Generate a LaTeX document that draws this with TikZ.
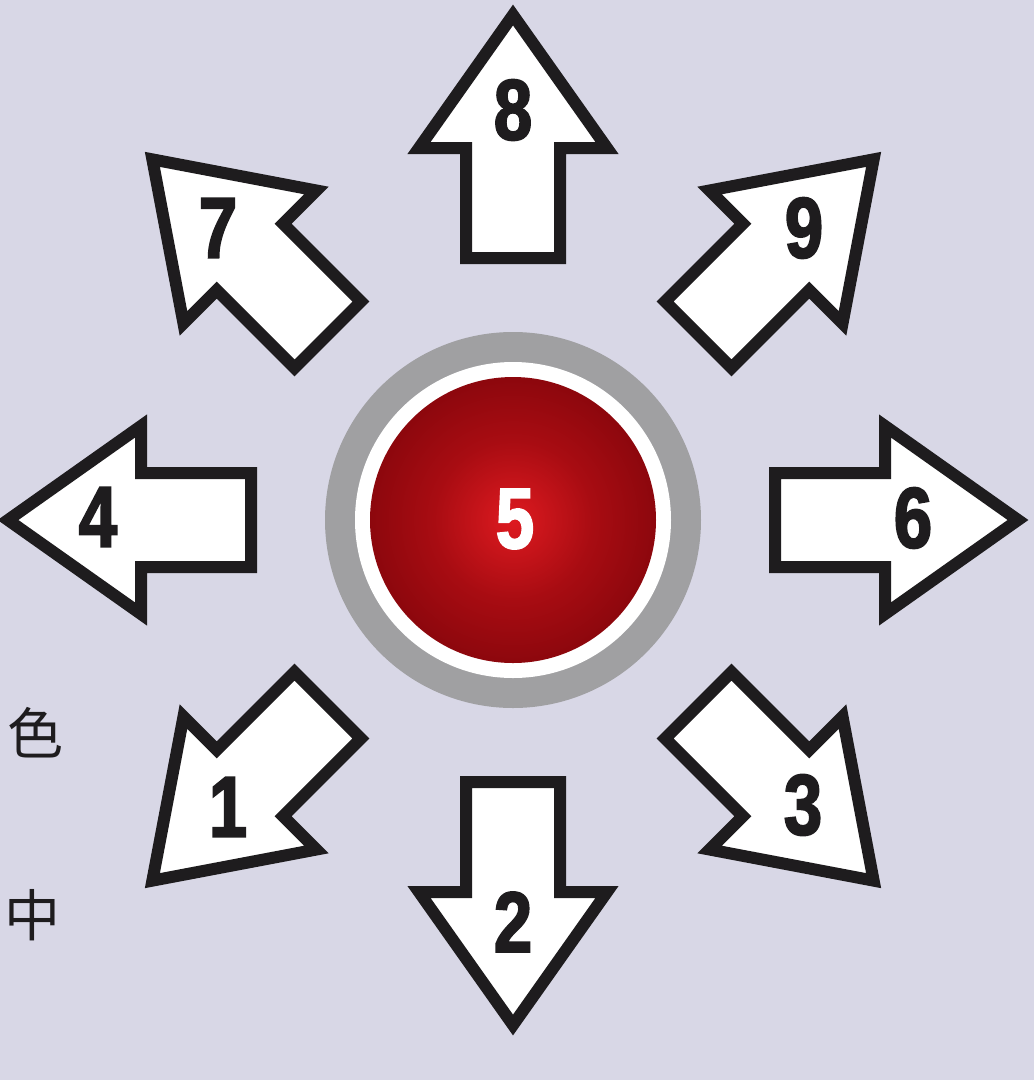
\documentclass[tikz,border=0pt]{standalone}
\usepackage{fontspec}
\newfontfamily\numfont[FakeStretch=0.8,FakeBold=2.2]{Liberation Sans}
\newfontfamily\cjk{Noto Sans CJK SC}
\definecolor{bg}{RGB}{216,215,230}
\definecolor{ringgray}{RGB}{160,160,162}
\definecolor{rc}{RGB}{222,26,32}
\definecolor{rm}{RGB}{168,12,18}
\definecolor{rd}{RGB}{118,3,9}
\definecolor{re}{RGB}{78,0,4}
\definecolor{ink}{RGB}{30,28,30}
\pgfdeclareradialshading{redball}{\pgfpoint{0bp}{0bp}}{color(0bp)=(rc); color(14bp)=(rm); color(34bp)=(rd); color(50bp)=(re); color(72bp)=(re)}
\tikzset{
  arrowbox/.style={draw=ink, fill=white, line width=12pt, line join=miter, miter limit=10},
  numlabel/.style={font=\numfont\bfseries\fontsize{86}{86}\selectfont, text=ink, inner sep=0pt},
  cjklabel/.style={font=\cjk\fontsize{56}{56}\selectfont, text=ink, inner sep=0pt}
}
\begin{document}
\begin{tikzpicture}[x=1pt,y=-1pt]
\useasboundingbox (0,0) rectangle (1034,1080);
\fill[bg] (0,0) rectangle (1034,1080);
\coordinate (c) at (513,520);
% arrows
\foreach \ang/\tip in {0/505,45/510,90/505,135/510,180/505,225/510,270/505,315/510}{
  \begin{scope}[shift={(c)}, rotate=\ang]
    \draw[arrowbox] (262,47) -- (372,47) -- (372,94) -- (\tip,0) -- (372,-94) -- (372,-47) -- (262,-47) -- cycle;
  \end{scope}
}
% centre button
\fill[ringgray] (c) circle[radius=188];
\fill[white] (c) circle[radius=158];
\shade[shading=redball] (c) circle[radius=143];
% labels
\node[numlabel] (n8) at (513,110) {8};
\node[numlabel] (n7) at (218,228) {7};
\node[numlabel] (n9) at (804,228) {9};
\node[numlabel] (n4) at (98,517) {4};
\node[numlabel, text=white] (n5) at (515,519) {5};
\node[numlabel] (n6) at (913,518) {6};
\node[numlabel] (n1) at (228,807) {1};
\node[numlabel] (n2) at (513,922) {2};
\node[numlabel] (n3) at (803,805) {3};
\node[cjklabel] (k1) at (35,733) {色};
\node[cjklabel] (k2) at (33,915) {中};
\end{tikzpicture}
\end{document}
